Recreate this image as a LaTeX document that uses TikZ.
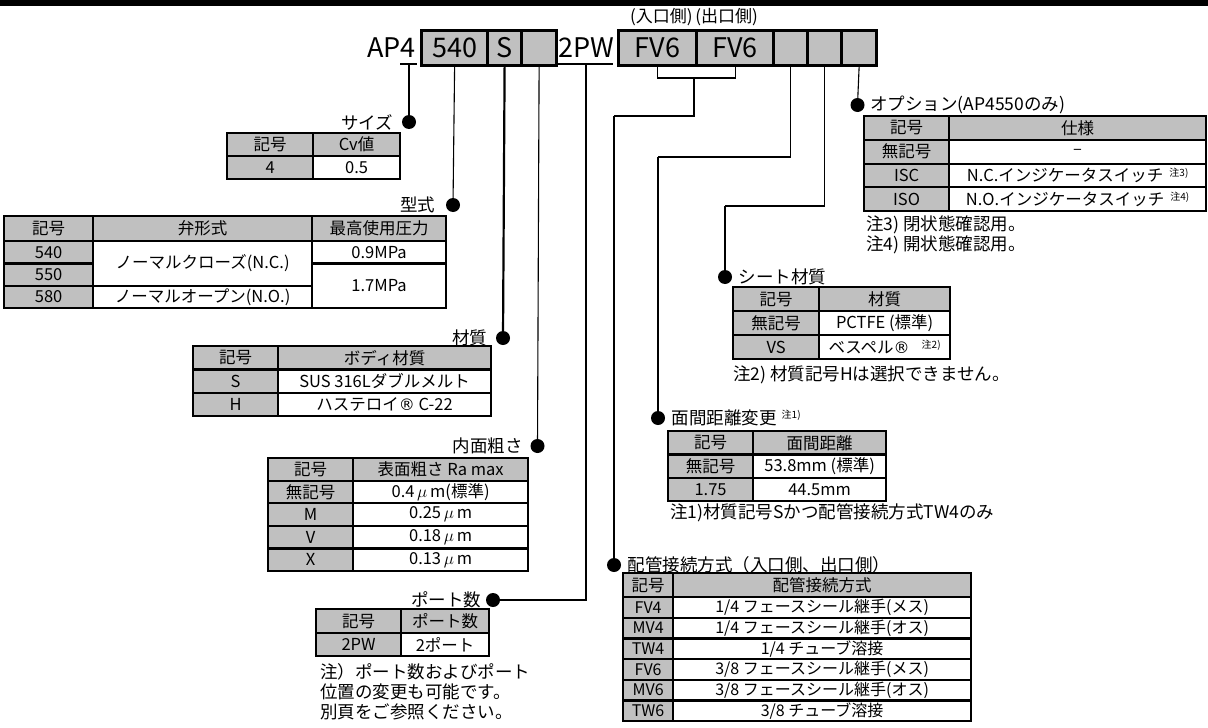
\documentclass[tikz,border=0pt]{standalone}
\usepackage{fontspec}
\setmainfont{Noto Sans CJK JP}
\newfontfamily\symfont{DejaVu Sans}
\usepackage{xcolor}
\usetikzlibrary{positioning}
\definecolor{cellgray}{RGB}{192,192,192}
\newcommand{\tabfont}{\fontsize{16.5}{17}\selectfont}
\newcommand{\lblfont}{\fontsize{17.5}{20}\selectfont}
\newcommand{\codefont}{\fontsize{27}{27}\selectfont}
\newcommand{\noteup}[1]{\raisebox{0.6ex}{\fontsize{10}{10}\selectfont #1}}
\newcommand{\regmark}{{\symfont\fontsize{16}{16}\selectfont ®}}

\begin{document}
\begin{tikzpicture}[x=1pt, y=-1pt, every node/.style={font=\lblfont},
  cellbox/.style={draw, fill=white, line width=2.2pt, anchor=north west, inner sep=0pt, font=\tabfont},
  graycell/.style={cellbox, fill=cellgray},
  wh/.style 2 args={minimum width=#1pt, minimum height=#2pt},
  codecell/.style={draw, fill=cellgray, line width=3.2pt, anchor=north west, inner sep=0pt, minimum height=35pt, font=\codefont},
  pindot/.style={circle, fill=black, inner sep=0pt, minimum size=14pt},
  thinline/.style={line width=1.1pt},
  thickline/.style={line width=2.2pt}]

\useasboundingbox (0,0) rectangle (1208,728);
\fill[white] (0,0) rectangle (1208,728);
\fill[black] (0,0) rectangle (1208,6);

% Model code
\node[font=\codefont, inner sep=0pt, anchor=base east] (ap4) at (416,57) {AP4};
\node[codecell, minimum width=66pt] (c540) at (420,29) {540};
\node[codecell, minimum width=34pt] (cS) at (486,29) {S};
\node[codecell, minimum width=35pt] (cB1) at (520,29) {};
\node[font=\codefont, inner sep=0pt, anchor=base west] (pw) at (558,57) {2PW};
\node[codecell, minimum width=78pt] (cIn) at (617,29) {FV6};
\node[codecell, minimum width=77pt] (cOut) at (695,29) {FV6};
\node[codecell, minimum width=34pt] (cB2) at (772,29) {};
\node[codecell, minimum width=34pt] (cB3) at (806,29) {};
\node[codecell, minimum width=35pt] (cB4) at (840,29) {};
\node[font=\fontsize{17}{17}\selectfont, inner sep=0pt] (sides) at (694,17) {(入口側)\,(出口側)};
\draw[thinline] (400,64) -- (417,64);
\draw[thinline] (558,64) -- (613,64);
\coordinate (ap4U) at (409,64);
\coordinate (pwU) at (586,64);

% Dots and labels
\node[pindot] (dSz) at (409,122) {};
\node[left=5pt of dSz] (lSz) {サイズ};
\node[pindot] (dKata) at (453,205) {};
\node[left=7pt of dKata] (lKata) {型式};
\node[pindot] (dZai) at (503,338) {};
\node[left=5pt of dZai] (lZai) {材質};
\node[pindot] (dNai) at (537.5,446) {};
\node[left=4pt of dNai] (lNai) {内面粗さ};
\node[pindot] (dPort) at (493,600) {};
\node[left=1pt of dPort] (lPort) {ポート数};
\node[pindot] (dPipe) at (614,565) {};
\node[right=3pt of dPipe] (lPipe) {配管接続方式（入口側、出口側）};
\node[pindot] (dMen) at (658,418) {};
\node[right=3pt of dMen] (lMen) {面間距離変更\hspace{5pt}\noteup{注1)}};
\node[pindot] (dSeat) at (725,277) {};
\node[right=3pt of dSeat] (lSeat) {シート材質};
\node[pindot] (dOpt) at (857.5,105) {};
\node[right=2pt of dOpt] (lOpt) {オプション(AP4550のみ)};

% Connectors
\coordinate (brk) at (694,78);
\coordinate (kPipe) at (614,116);
\coordinate (kMen) at (658,157);
\coordinate (kSeat) at (725,206);
\draw[thickline] (ap4U) -- (dSz);
\draw[thinline] (c540.south) -- (dKata);
\draw[thickline] (cS.south) -- (dZai);
\draw[thinline] (cB1.south) -- (dNai);
\draw[thinline] (pwU) |- (dPort);
\draw[thinline] (cIn.south) |- (brk) -| (cOut.south);
\draw[thinline] (brk) |- (kPipe);
\draw[thickline] (kPipe) -- (dPipe);
\draw[thinline] (cB2.south) |- (kMen);
\draw[thickline] (kMen) -- (dMen);
\draw[thinline] (cB3.south) |- (kSeat);
\draw[thickline] (kSeat) -- (dSeat);
\draw[thinline] (cB4.south) -- (dOpt);

% Size table
\node[graycell, wh={86}{23}] (szH1) at (226,132) {記号};
\node[graycell, wh={87}{23}] (szH2) at (312,132) {Cv値};
\node[graycell, wh={86}{23}] (szK1) at (226,155) {4};
\node[cellbox, wh={87}{23}] (szV1) at (312,155) {0.5};

% Type table
\node[graycell, wh={89}{25}] (tyH1) at (3,215) {記号};
\node[graycell, wh={219}{25}] (tyH2) at (92,215) {弁形式};
\node[graycell, wh={134}{25}] (tyH3) at (311,215) {最高使用圧力};
\foreach \k [count=\i] in {540,550,580}
  \node[graycell, wh={89}{22.33}] (tyK\i) at (3,{240+22.33*(\i-1)}) {\k};
\node[cellbox, wh={219}{44.67}] (tyNC) at (92,240) {ノーマルクローズ(N.C.)};
\node[cellbox, wh={219}{22.33}] (tyNO) at (92,284.67) {ノーマルオープン(N.O.)};
\node[cellbox, wh={134}{22.33}] (tyP1) at (311,240) {0.9MPa};
\node[cellbox, wh={134}{44.67}] (tyP2) at (311,262.33) {1.7MPa};

% Body material table
\node[graycell, wh={85}{23.33}] (bmH1) at (192,345) {記号};
\node[graycell, wh={213}{23.33}] (bmH2) at (277,345) {ボディ材質};
\foreach \k/\v [count=\i] in {S/SUS 316Lダブルメルト, H/{ハステロイ\regmark\ C-22}} {
  \node[graycell, wh={85}{23.33}] (bmK\i) at (192,{345+23.33*\i}) {\k};
  \node[cellbox, wh={213}{23.33}] (bmV\i) at (277,{345+23.33*\i}) {\v};
}

% Surface roughness table
\node[graycell, wh={85}{22.6}] (rgH1) at (267,457) {記号};
\node[graycell, wh={175}{22.6}] (rgH2) at (352,457) {表面粗さ Ra max};
\foreach \k/\v [count=\i] in {無記号/{0.4\,$\mu$\,m(標準)}, M/{0.25\,$\mu$\,m}, V/{0.18\,$\mu$\,m}, X/{0.13\,$\mu$\,m}} {
  \node[graycell, wh={85}{22.6}] (rgK\i) at (267,{457+22.6*\i}) {\k};
  \node[cellbox, wh={175}{22.6}] (rgV\i) at (352,{457+22.6*\i}) {\v};
}

% Port table
\node[graycell, wh={85}{24}] (ptH1) at (315,608) {記号};
\node[graycell, wh={88}{24}] (ptH2) at (400,608) {ポート数};
\node[graycell, wh={85}{23}] (ptK1) at (315,632) {2PW};
\node[cellbox, wh={88}{23}] (ptV1) at (400,632) {2ポート};
\node[anchor=north west, align=left, inner sep=0pt] (ptNote) at (320,663) {注）ポート数およびポート\\位置の変更も可能です。\\別頁をご参照ください。};

% Pipe connection table
\node[graycell, wh={50}{24}] (ppH1) at (622,572) {記号};
\node[graycell, wh={298}{24}] (ppH2) at (672,572) {配管接続方式};
\foreach \k/\v [count=\i] in {FV4/{1/4 フェースシール継手(メス)}, MV4/{1/4 フェースシール継手(オス)}, TW4/{1/4 チューブ溶接}, FV6/{3/8 フェースシール継手(メス)}, MV6/{3/8 フェースシール継手(オス)}, TW6/{3/8 チューブ溶接}} {
  \node[graycell, wh={50}{20.67}, font=\fontsize{16}{16}\selectfont] (ppK\i) at (622,{596+20.67*(\i-1)}) {\k};
  \node[cellbox, wh={298}{20.67}, font=\fontsize{16}{16}\selectfont] (ppV\i) at (672,{596+20.67*(\i-1)}) {\v};
}

% Face-to-face table
\node[graycell, wh={85}{23.33}] (ffH1) at (667,430) {記号};
\node[graycell, wh={133}{23.33}] (ffH2) at (752,430) {面間距離};
\foreach \k/\v [count=\i] in {無記号/53.8mm (標準), 1.75/44.5mm} {
  \node[graycell, wh={85}{23.33}] (ffK\i) at (667,{430+23.33*\i}) {\k};
  \node[cellbox, wh={133}{23.33}] (ffV\i) at (752,{430+23.33*\i}) {\v};
}
\node[anchor=west, inner sep=0pt] (ffNote) at (670,513) {注1)材質記号Sかつ配管接続方式TW4のみ};

% Seat material table
\node[graycell, wh={86}{24}] (stH1) at (732,286) {記号};
\node[graycell, wh={131}{24}] (stH2) at (818,286) {材質};
\node[graycell, wh={86}{24}] (stK1) at (732,310) {無記号};
\node[cellbox, wh={131}{24}] (stV1) at (818,310) {PCTFE (標準)};
\node[graycell, wh={86}{24}] (stK2) at (732,334) {VS};
\node[cellbox, wh={131}{24}] (stV2) at (818,334) {ベスペル\regmark\hspace{12pt}\noteup{注2)}};
\node[anchor=west, inner sep=0pt] (stNote) at (733,375) {注2) 材質記号Hは選択できません。};

% Option table
\node[graycell, wh={85}{23.75}] (opH1) at (863,115) {記号};
\node[graycell, wh={257}{23.75}] (opH2) at (948,115) {仕様};
\node[graycell, wh={85}{23.75}] (opK1) at (863,138.75) {無記号};
\node[cellbox, wh={257}{23.75}] (opV1) at (948,138.75) {–};
\node[graycell, wh={85}{23.75}] (opK2) at (863,162.5) {ISC};
\node[cellbox, wh={257}{23.75}] (opV2) at (948,162.5) {N.C.インジケータスイッチ\hspace{6pt}\noteup{注3)}};
\node[graycell, wh={85}{23.75}] (opK3) at (863,186.25) {ISO};
\node[cellbox, wh={257}{23.75}] (opV3) at (948,186.25) {N.O.インジケータスイッチ\hspace{6pt}\noteup{注4)}};
\node[anchor=north west, align=left, inner sep=0pt, font=\fontsize{17.5}{17}\selectfont] (opNote) at (866,216) {注3) 閉状態確認用。\\注4) 開状態確認用。};

\end{tikzpicture}
\end{document}
